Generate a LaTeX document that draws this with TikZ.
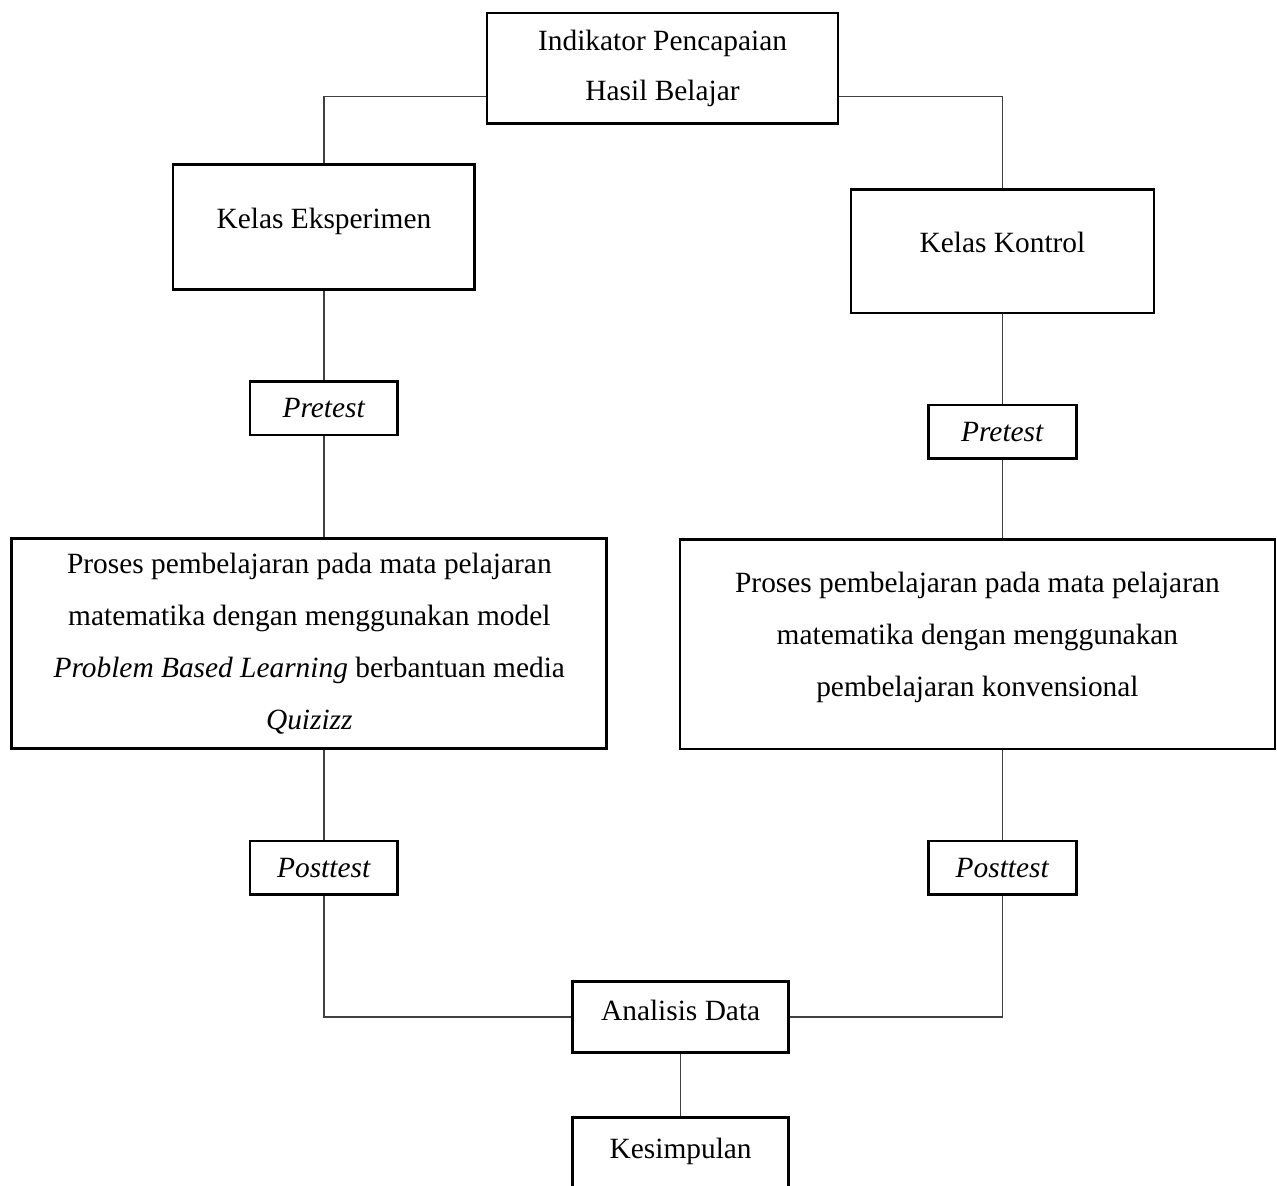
\documentclass[tikz,border=0pt]{standalone}
\usepackage{fontspec}
\setmainfont{Liberation Serif}
\usetikzlibrary{positioning,calc}
\tikzset{
box/.style={draw=black,line width=1.1pt,align=center,inner sep=2pt,font=\fontsize{12}{21.2}\selectfont},
lift/.style={text height=9pt,text depth=8.1pt},
testbox/.style={box,minimum width=2.12cm,minimum height=0.77cm},
procbox/.style={box,minimum width=8.54cm,minimum height=3.01cm},
endbox/.style={box,text height=9pt,text depth=6.5pt,minimum width=3.10cm,minimum height=1.02cm},
link/.style={draw=black!75,line width=0.6pt}
}

\begin{document}
\begin{tikzpicture}
\useasboundingbox (0,0) rectangle (18.33,-17.01);
\node[box,font=\fontsize{12}{20.4}\selectfont,minimum width=5.04cm,minimum height=1.59cm] (ind) at (9.51,-0.98) {Indikator Pencapaian\\Hasil Belajar};
\node[box,lift,minimum width=4.33cm,minimum height=1.79cm] (eks) at (4.65,-3.26) {Kelas Eksperimen};
\node[box,lift,minimum width=4.35cm,minimum height=1.77cm] (kon) at (14.39,-3.61) {Kelas Kontrol};
\node[testbox,below=1.28cm of eks] (preE) {\textit{Pretest}};
\node[testbox,below=1.28cm of kon] (preK) {\textit{Pretest}};
\node[procbox,below=1.45cm of preE,xshift=-0.21cm] (proE) {Proses pembelajaran pada mata pelajaran\\matematika dengan menggunakan model\\\textit{Problem Based Learning} berbantuan media\\\textit{Quizizz}};
\node[procbox,text depth=8.1pt,below=1.12cm of preK,xshift=-0.36cm] (proK) {Proses pembelajaran pada mata pelajaran\\matematika dengan menggunakan\\pembelajaran konvensional};
\node[testbox,below=1.29cm of proE,xshift=0.21cm] (postE) {\textit{Posttest}};
\node[testbox,below=1.28cm of proK,xshift=0.36cm] (postK) {\textit{Posttest}};
\node[endbox] (ana) at (9.77,-14.60) {Analisis Data};
\node[endbox,minimum height=1.1cm,below=0.89cm of ana] (kes) {Kesimpulan};

\draw[link] ($(ind.south west)!.25!(ind.north west)$) -| (eks.north);
\draw[link] ($(ind.south east)!.25!(ind.north east)$) -| (kon.north);
\draw[link] (eks) -- (preE);
\draw[link] (kon) -- (preK);
\draw[link] (preE.south) -- (preE.south |- proE.north);
\draw[link] (preK.south) -- (preK.south |- proK.north);
\draw[link] (proE.south -| postE) -- (postE.north);
\draw[link] (proK.south -| postK) -- (postK.north);
\draw[link] (postE.south) |- (ana.west);
\draw[link] (postK.south) |- (ana.east);
\draw[link] (ana) -- (kes);
\end{tikzpicture}
\end{document}
